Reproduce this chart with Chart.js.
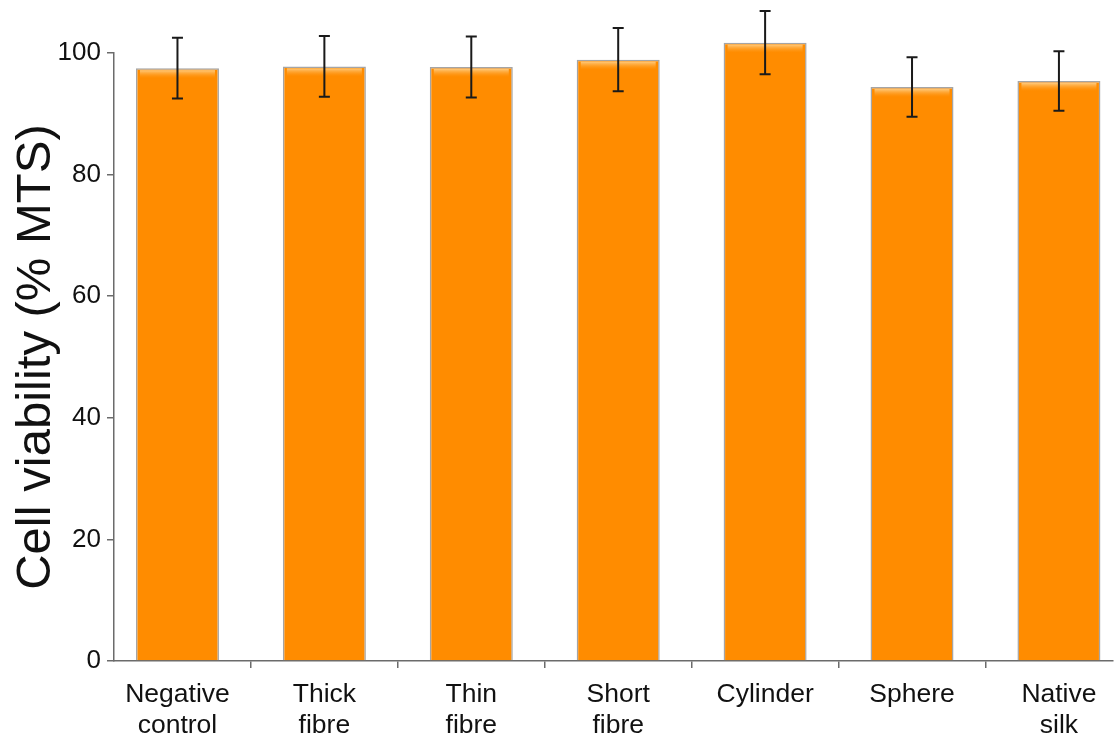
<!DOCTYPE html>
<html lang="en">
<head>
<meta charset="UTF-8">
<title>Cell viability</title>
<style>
  html, body { margin: 0; padding: 0; background: #fff; }
  #wrap { width: 1117px; height: 742px; position: relative; }
</style>
<script src="https://cdn.jsdelivr.net/npm/chart.js@4"></script>
</head>
<body>
<div id="wrap"><canvas id="viabilityChart"></canvas></div>
<script>
// categories (two-line labels) and values
const categories = [
  ['Negative', 'control'],
  ['Thick', 'fibre'],
  ['Thin', 'fibre'],
  ['Short', 'fibre'],
  ['Cylinder'],
  ['Sphere'],
  ['Native', 'silk']
];
const viability = [97.5, 97.8, 97.7, 98.9, 101.7, 94.4, 95.4];
const viabilityErr = [5.0, 5.0, 5.0, 5.2, 5.2, 4.9, 4.9];
const yTicks = [0, 20, 40, 60, 80, 100];

// bars sit at index positions; tick marks go between them
const barPoints = viability.map((v, i) => ({ x: i, y: v }));
const labelPositions = categories.map((c, i) => i);
const dividerPositions = categories.slice(1).map((c, i) => i + 0.5);

const FONT = 'Liberation Sans, Arial, sans-serif';

// error bars drawn from the y scale, on top of the bars
const errorBarPlugin = {
    id: 'errorBars',
    afterDatasetsDraw(chart) {
        const ctx = chart.ctx;
        const yScale = chart.scales.y;
        const meta = chart.getDatasetMeta(0);
        ctx.save();
        // little gloss strip near the top of each bar
        meta.data.forEach(bar => {
            const half = bar.width / 2;
            const g = ctx.createLinearGradient(0, bar.y + 2, 0, bar.y + 10);
            g.addColorStop(0, 'rgba(255,205,130,0.95)');
            g.addColorStop(1, 'rgba(255,160,40,0)');
            ctx.fillStyle = g;
            ctx.fillRect(bar.x - half + 4, bar.y + 2, bar.width - 8, 8);
        });
        ctx.strokeStyle = '#1a1a1a';
        ctx.lineWidth = 2;
        meta.data.forEach((bar, i) => {
            const x = bar.x;
            const top = yScale.getPixelForValue(viability[i] + viabilityErr[i]);
            const bottom = yScale.getPixelForValue(viability[i] - viabilityErr[i]);
            ctx.beginPath();
            ctx.moveTo(x, top); ctx.lineTo(x, bottom);
            ctx.moveTo(x - 5.5, top); ctx.lineTo(x + 5.5, top);
            ctx.moveTo(x - 5.5, bottom); ctx.lineTo(x + 5.5, bottom);
            ctx.stroke();
        });
        ctx.restore();
    }
};

// darker left/right edges like the original bars
function barFill(context) {
    const el = context.element;
    if (!el) return '#ff8c00';
    const { x, width } = el.getProps(['x', 'width'], true);
    if (!isFinite(x) || !isFinite(width) || !width) return '#ff8c00';
    const g = context.chart.ctx.createLinearGradient(x - width / 2, 0, x + width / 2, 0);
    g.addColorStop(0, '#e07400');
    g.addColorStop(0.05, '#ff8c00');
    g.addColorStop(0.95, '#ff8c00');
    g.addColorStop(1, '#e07400');
    return g;
}

new Chart(document.getElementById('viabilityChart'), {
    type: 'bar',
    data: {
        datasets: [{
            data: barPoints,
            backgroundColor: barFill,
            borderColor: '#a5a5a5',
            borderWidth: 1.5,
            // sample size is the half-step between ticks, so this is ~0.565 of a category
            barPercentage: 1.13,
            categoryPercentage: 1.0,
            clip: false
        }]
    },
    options: {
        responsive: true,
        maintainAspectRatio: false,
        animation: false,
        layout: { padding: { top: 53, right: 4, bottom: 0, left: 0 } },
        plugins: { legend: { display: false }, tooltip: { enabled: false } },
        scales: {
            x: {
                type: 'linear',
                offset: false,
                bounds: 'data',
                min: -0.432,
                max: 6.368,
                afterBuildTicks(scale) {
                    scale.ticks = labelPositions.concat(dividerPositions)
                        .sort((a, b) => a - b)
                        .map(v => ({ value: v }));
                },
                grid: {
                    display: true,
                    offset: false,
                    drawOnChartArea: false,
                    tickLength: 7,
                    lineWidth: 1.5,
                    color: ctx => (ctx.tick && Number.isInteger(ctx.tick.value)) ? 'rgba(0,0,0,0)' : '#6b6b6b'
                },
                border: { display: true, color: '#6b6b6b', width: 1.5 },
                ticks: {
                    color: '#111',
                    font: { family: FONT, size: 26.5, lineHeight: 1.17 },
                    padding: 11,
                    maxRotation: 0,
                    autoSkip: false,
                    callback: v => Number.isInteger(v) ? categories[v] : ''
                },
                afterFit(scale) { scale.height = 81; }
            },
            y: {
                min: 0,
                max: 100,
                afterBuildTicks(scale) { scale.ticks = yTicks.map(v => ({ value: v })); },
                grid: { display: true, drawOnChartArea: false, tickLength: 7, color: '#6b6b6b', lineWidth: 1.5 },
                border: { display: true, color: '#6b6b6b', width: 1.5 },
                ticks: { color: '#111', font: { family: FONT, size: 26 }, padding: 6 },
                title: {
                    display: true,
                    text: 'Cell viability (% MTS)',
                    color: '#111',
                    font: { family: FONT, size: 49 },
                    padding: { top: 7, bottom: 0 }
                },
                afterFit(scale) { scale.width = 114; }
            }
        }
    },
    plugins: [errorBarPlugin]
});
</script>
</body>
</html>
